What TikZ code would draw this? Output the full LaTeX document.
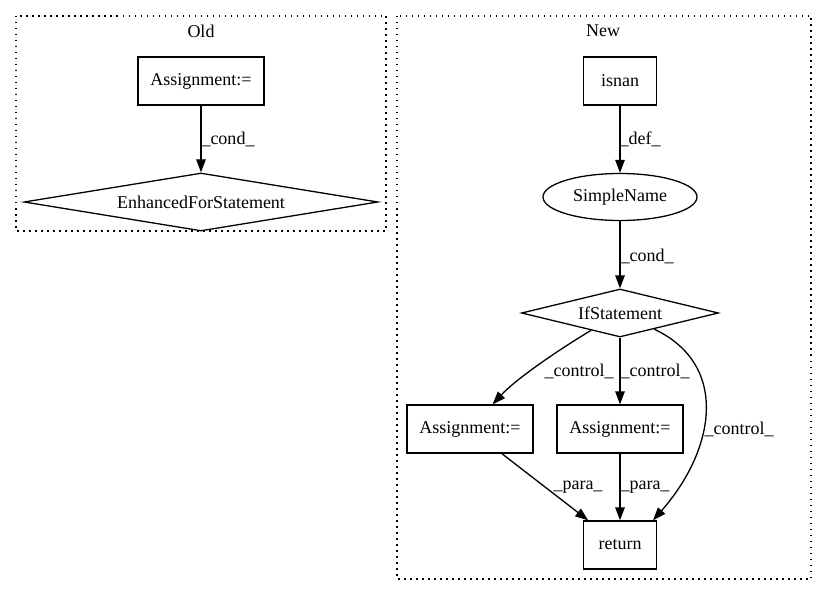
\documentclass[tikz,border=0pt]{standalone}
\usepackage{fontspec}
\setmainfont{Liberation Serif}
\usetikzlibrary{shapes.geometric,arrows.meta,calc}
\begin{document}
\begin{tikzpicture}[x=1pt,y=-1pt,
  font=\fontsize{18}{21}\selectfont,
  cluster/.style={draw, line width=1.2pt, dash pattern=on 1.5pt off 4.5pt},
  box/.style={draw, line width=1.3pt, rectangle, minimum height=48pt, inner sep=0pt},
  dia/.style={draw, line width=1.3pt, diamond, inner sep=0pt},
  ell/.style={draw, line width=1.3pt, ellipse, inner sep=0pt, minimum width=154pt, minimum height=47pt},
  edge/.style={draw, line width=1.3pt, -{Triangle[length=13pt,width=9.5pt]}},
  lbl/.style={inner sep=0pt, anchor=center},
  ttl/.style={inner sep=0pt, anchor=center}]
\useasboundingbox (0,0) rectangle (827,596);
% clusters
\draw[cluster] (16,16) rectangle (386,231);
\draw[cluster] (397,16) rectangle (811,579);
\node[ttl] (told) at (201,31) {Old};
\node[ttl] (tnew) at (603,31) {New};
% Old
\node[box, minimum width=126pt] (oa) at (201,81) {Assignment:=};
\node[dia, minimum width=354pt, minimum height=58pt, aspect=6] (efs) at (201,202) {EnhancedForStatement};
\draw[edge] (oa) -- (efs);
\node[lbl] (lc1) at (228,139) {\_cond\_};
% New
\node[box, minimum width=73pt] (isn) at (620,81) {isnan};
\node[ell] (sn) at (620,197) {SimpleName};
\node[dia, minimum width=197pt, minimum height=48pt, aspect=4] (ifs) at (620,313) {IfStatement};
\node[box, minimum width=126pt] (a1) at (470,429) {Assignment:=};
\node[box, minimum width=126pt] (a2) at (620,429) {Assignment:=};
\node[box, minimum width=73pt] (ret) at (620,545) {return};
\draw[edge] (isn) -- (sn);
\draw[edge] (sn) -- (ifs);
\draw[edge] (ifs) .. controls (555,352) and (515,380) .. (a1);
\draw[edge] (ifs) -- (a2);
\draw[edge] (ifs) .. controls (730,365) and (715,450) .. ([xshift=33pt]ret.north);
\draw[edge] (a1) -- (ret);
\draw[edge] (a2) -- (ret);
\node[lbl] (ld) at (640,139) {\_def\_};
\node[lbl] (lc2) at (647,256) {\_cond\_};
\node[lbl] (lct1) at (579,371) {\_control\_};
\node[lbl] (lct2) at (655,371) {\_control\_};
\node[lbl] (lct3) at (739,429) {\_control\_};
\node[lbl] (lp1) at (578,487) {\_para\_};
\node[lbl] (lp2) at (645,487) {\_para\_};
\end{tikzpicture}
\end{document}
